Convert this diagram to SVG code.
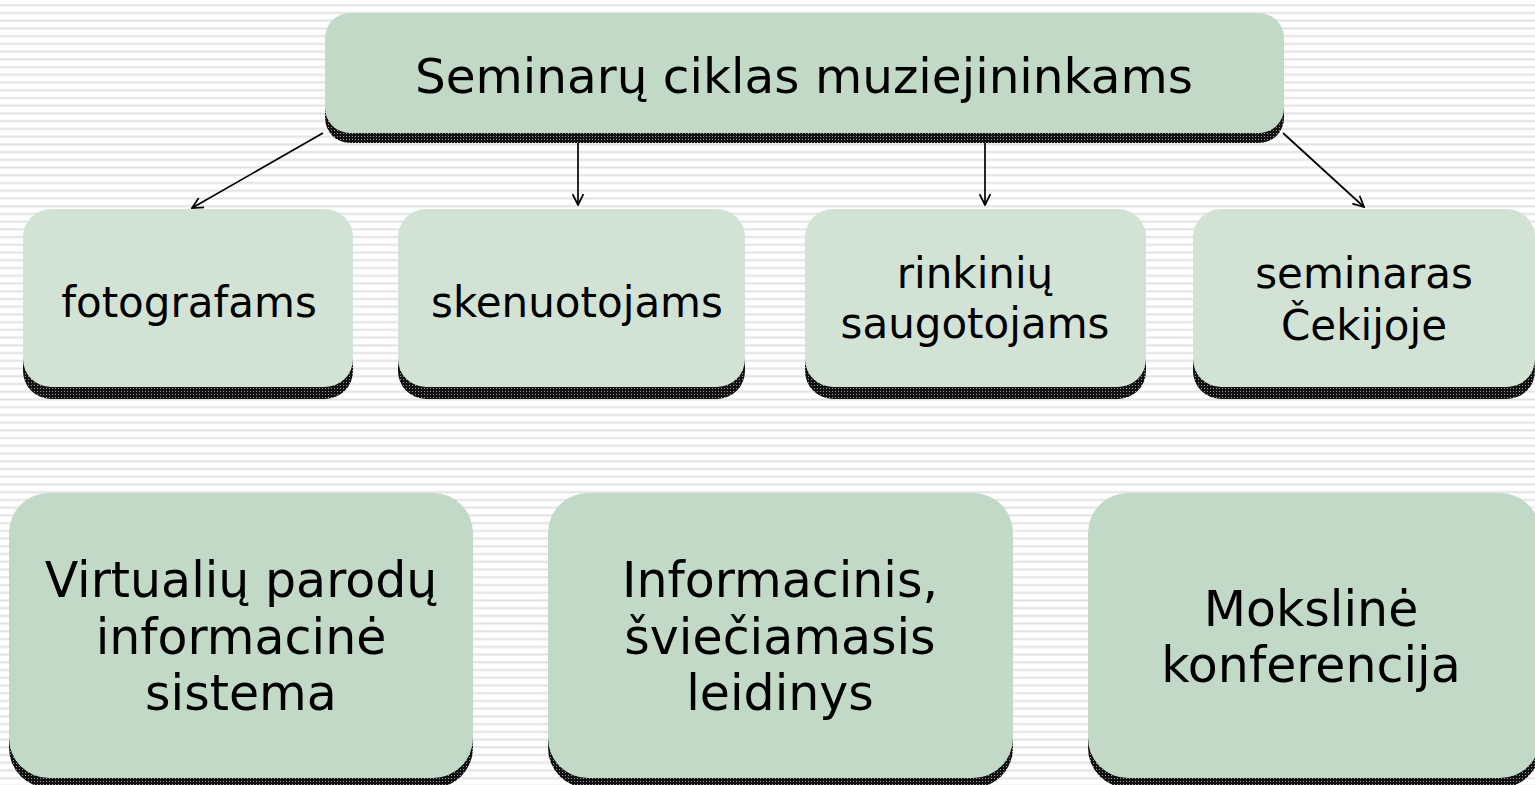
<svg xmlns="http://www.w3.org/2000/svg" width="1535" height="785" viewBox="0 0 1535 785">
<defs>
<pattern id="stripes" patternUnits="userSpaceOnUse" x="0" y="0" width="20" height="7.73">
<rect x="0" y="0" width="20" height="7.73" fill="#ffffff"/>
<rect x="0" y="4.2" width="20" height="2" fill="#e2e2e2"/>
</pattern>
<pattern id="shade" patternUnits="userSpaceOnUse" width="3" height="3">
<rect width="3" height="3" fill="#111111"/>
<rect x="1" y="1" width="1" height="1" fill="#9a9a9a"/>
</pattern>
<marker id="arr" viewBox="0 0 12 12" refX="11" refY="6" markerWidth="13" markerHeight="13" markerUnits="userSpaceOnUse" orient="auto">
<path d="M1,1 L11,6 L1,11" fill="none" stroke="#000" stroke-width="1.6"/>
</marker>
</defs>
<style>
.sh{fill:url(#shade);}
.b1{fill:#c2d9c8;}
.b2{fill:#d2e3d6;}
.t{font-family:"DejaVu Sans","Verdana",sans-serif;fill:#000;text-anchor:middle;}
.top{font-size:48.5px;}
.big{font-size:49px;}
.mid{font-size:42px;}
.c{stroke:#000;stroke-width:1.7;fill:none;marker-end:url(#arr);}
</style>
<rect x="0" y="0" width="1535" height="785" fill="url(#stripes)"/>

<g id="connectors">
<line class="c" x1="323" y1="133" x2="192" y2="208"/>
<line class="c" x1="578" y1="133" x2="578" y2="205"/>
<line class="c" x1="985" y1="133" x2="985" y2="205"/>
<line class="c" x1="1283" y1="133" x2="1364" y2="207"/>
</g>

<g id="top">
<rect class="sh" x="325" y="22" width="959" height="121" rx="25"/>
<rect class="b1" x="325" y="13" width="959" height="120" rx="25"/>
<text class="t top" x="804" y="93">Seminarų ciklas muziejininkams</text>
</g>

<g id="fotografams">
<rect class="sh" x="23" y="221" width="330" height="178" rx="28"/>
<rect class="b2" x="23" y="209" width="330" height="178" rx="28"/>
<text class="t mid" x="189" y="317">fotografams</text>
</g>
<g id="skenuotojams">
<rect class="sh" x="398" y="221" width="347" height="178" rx="28"/>
<rect class="b2" x="398" y="209" width="347" height="178" rx="28"/>
<text class="t mid" x="577" y="317">skenuotojams</text>
</g>
<g id="rinkiniu">
<rect class="sh" x="805" y="221" width="341" height="178" rx="28"/>
<rect class="b2" x="805" y="209" width="341" height="178" rx="28"/>
<text class="t mid" x="975" y="288">rinkinių</text>
<text class="t mid" x="975" y="338">saugotojams</text>
</g>
<g id="cekijoje">
<rect class="sh" x="1193" y="221" width="342" height="178" rx="28"/>
<rect class="b2" x="1193" y="209" width="342" height="178" rx="28"/>
<text class="t mid" x="1364" y="288">seminaras</text>
<text class="t mid" x="1364" y="340">Čekijoje</text>
</g>

<g id="virtualiu">
<rect class="sh" x="9" y="503" width="464" height="285" rx="40"/>
<rect class="b1" x="9" y="493" width="464" height="285" rx="40"/>
<text class="t big" x="241" y="597">Virtualių parodų</text>
<text class="t big" x="241" y="654">informacinė</text>
<text class="t big" x="241" y="710">sistema</text>
</g>
<g id="leidinys">
<rect class="sh" x="548" y="503" width="465" height="285" rx="40"/>
<rect class="b1" x="548" y="493" width="465" height="285" rx="40"/>
<text class="t big" x="780" y="597">Informacinis,</text>
<text class="t big" x="780" y="654">šviečiamasis</text>
<text class="t big" x="780" y="710">leidinys</text>
</g>
<g id="konferencija">
<rect class="sh" x="1088" y="503" width="452" height="285" rx="40"/>
<rect class="b1" x="1088" y="493" width="452" height="285" rx="40"/>
<text class="t big" x="1311" y="626">Mokslinė</text>
<text class="t big" x="1311" y="682">konferencija</text>
</g>
</svg>
